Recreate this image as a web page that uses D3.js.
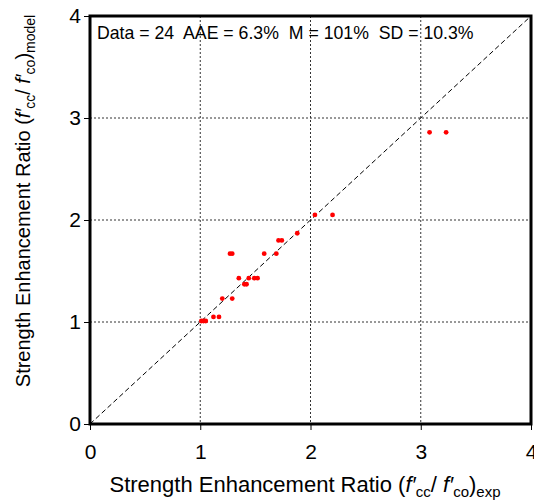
<!DOCTYPE html>
<html><head><meta charset="utf-8">
<script src="https://cdn.jsdelivr.net/npm/d3@7"></script>
<style>body{margin:0;background:#fff}svg{display:block;font-family:Arial,"Liberation Sans",sans-serif}text{white-space:pre}</style>
</head><body>
<svg id="c" width="534" height="504"></svg>
<script>
const expRatio = [1.01,1.03,1.05,1.12,1.17,1.20,1.29,1.27,1.29,1.35,1.40,1.42,1.44,1.49,1.52,1.58,1.69,1.71,1.74,1.88,2.04,2.20,3.08,3.23];
const modelRatio = [1.01,1.01,1.01,1.05,1.05,1.23,1.23,1.67,1.67,1.43,1.37,1.37,1.43,1.43,1.43,1.67,1.67,1.80,1.80,1.87,2.05,2.05,2.86,2.86];
const tickValues = [0,1,2,3,4];
const gridValues = [1,2,3];
const statsText = "Data = 24  AAE = 6.3%  M = 101%  SD = 10.3%";

const svg = d3.select("#c");
const L=90, R=531, T=16, B=424;
const x = d3.scaleLinear().domain([0,4]).range([L,R]);
const y = d3.scaleLinear().domain([0,4]).range([B,T]);

// grid
svg.selectAll(".gx").data(gridValues).enter().append("line")
  .attr("x1",d=>x(d)).attr("x2",d=>x(d)).attr("y1",T).attr("y2",B)
  .attr("stroke","#333").attr("stroke-width",1).attr("stroke-dasharray","2,2");
svg.selectAll(".gy").data(gridValues).enter().append("line")
  .attr("y1",d=>y(d)).attr("y2",d=>y(d)).attr("x1",L).attr("x2",R)
  .attr("stroke","#333").attr("stroke-width",1).attr("stroke-dasharray","2,2");

// diagonal
svg.append("line").attr("x1",x(0)).attr("y1",y(0)).attr("x2",x(4)).attr("y2",y(4))
  .attr("stroke","#000").attr("stroke-width",1).attr("stroke-dasharray","5,3");

// axes ticks
const xAxis = d3.axisBottom(x).tickValues(tickValues).tickSize(6).tickPadding(14).tickFormat(d3.format("d"));
const yAxis = d3.axisLeft(y).tickValues(tickValues).tickSize(6).tickPadding(3).tickFormat(d3.format("d"));
const gx = svg.append("g").attr("transform",`translate(0,${B})`).call(xAxis);
const gy = svg.append("g").attr("transform",`translate(${L},0)`).call(yAxis);
[gx,gy].forEach(g=>{
  g.select(".domain").remove();
  g.selectAll("line").attr("stroke","#000");
  g.selectAll("text").attr("font-size",21).attr("fill","#000").attr("font-family","Arial, 'Liberation Sans', sans-serif");
});

// points
svg.selectAll(".pt").data(expRatio).enter().append("circle")
  .attr("cx",(d)=>x(d)).attr("cy",(d,i)=>y(modelRatio[i])).attr("r",2.4).attr("fill","#ff0000");

// frame
svg.append("rect").attr("x",L).attr("y",T).attr("width",R-L).attr("height",B-T)
  .attr("fill","none").attr("stroke","#000").attr("stroke-width",3);

// stats text
svg.append("text").attr("x",97).attr("y",39).attr("font-size",17.7).text(statsText);

function richTitle(t, sub, fs){
  const s = Math.round(fs*0.68);
  t.append("tspan").text("Strength Enhancement Ratio (");
  t.append("tspan").attr("font-style","italic").text("f′");
  t.append("tspan").attr("font-size",s).attr("dy",5).text("cc");
  t.append("tspan").attr("dy",-5).text("/ ");
  t.append("tspan").attr("font-style","italic").text("f′");
  t.append("tspan").attr("font-size",s).attr("dy",5).text("co");
  t.append("tspan").attr("dy",-5).text(")");
  t.append("tspan").attr("font-size",s).attr("dy",5).text(sub);
}
const xt = svg.append("text").attr("x",305).attr("y",492).attr("text-anchor","middle").attr("font-size",22);
richTitle(xt,"exp",22);
const yt = svg.append("text").attr("transform","translate(30,201) rotate(-90)").attr("text-anchor","middle").attr("font-size",20);
richTitle(yt,"model",20);
</script>
</body></html>
